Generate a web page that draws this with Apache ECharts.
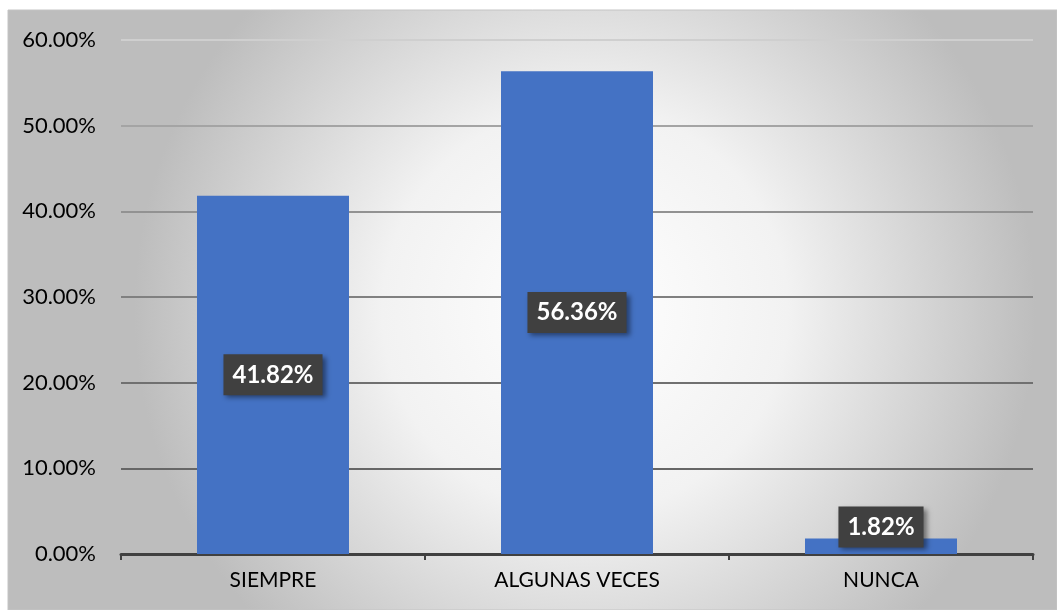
<!DOCTYPE html>
<html>
<head>
<meta charset="utf-8">
<script src="https://cdn.jsdelivr.net/npm/echarts@6/dist/echarts.min.js"></script>
<style>
  html, body { margin: 0; padding: 0; background: #fff; }
  #chart { width: 1057px; height: 610px; }
</style>
</head>
<body>
<div id="chart"></div>
<script>
"use strict";

var categories = ["SIEMPRE", "ALGUNAS VECES", "NUNCA"];
var values = [41.82, 56.36, 1.82];
var yTicks = [0, 10, 20, 30, 40, 50, 60];

var chart = echarts.init(document.getElementById("chart"));

var labelBox = {
  show: true,
  position: "inside",
  color: "#fff",
  fontFamily: "Lato",
  fontWeight: "bold",
  fontSize: 24,
  backgroundColor: "#404040",
  padding: [9, 9, 8, 9],
  shadowColor: "rgba(0,0,0,0.45)",
  shadowBlur: 5,
  shadowOffsetX: 3,
  shadowOffsetY: 3,
  formatter: function (p) {
    return p.value.toFixed(2) + "%";
  },
};

chart.setOption({
  animation: false,
  graphic: [
    {
      type: "rect",
      z: -10,
      shape: { x: 8, y: 10, width: 1049, height: 600 },
      style: {
        fill: new echarts.graphic.RadialGradient(0.55, 0.5, 0.75, [
          { offset: 0, color: "#ffffff" },
          { offset: 0.45, color: "#f2f2f2" },
          { offset: 1, color: "#bdbdbd" },
        ]),
        stroke: "#c4c4c4",
        lineWidth: 1,
      },
    },
  ],
  grid: {
    left: 121,
    right: 24,
    top: 40,
    bottom: 56,
  },
  xAxis: {
    type: "category",
    data: categories,
    axisLine: { lineStyle: { color: "#404040", width: 3 } },
    axisTick: { show: true, length: 6, lineStyle: { color: "#404040", width: 2 } },
    axisLabel: {
      color: "#000",
      fontFamily: "Lato",
      fontSize: 21,
      margin: 16,
    },
  },
  yAxis: {
    type: "value",
    min: yTicks[0],
    max: yTicks[yTicks.length - 1],
    interval: 10,
    axisLine: { show: false },
    axisTick: { show: false },
    axisLabel: {
      color: "#000",
      fontFamily: "Lato",
      fontSize: 22,
      margin: 25,
      formatter: function (v) {
        return v.toFixed(2) + "%";
      },
    },
    splitLine: {
      lineStyle: {
        width: 2,
        color: ["#404040", "#666666", "#707070", "#808080", "#929292", "#a4a4a4", "#cfcfcf"],
      },
    },
  },
  series: [
    {
      type: "bar",
      barWidth: "50%",
      itemStyle: { color: "#4472C4" },
      label: labelBox,
      data: values.map(function (v, i) {
        if (v < 5) {
          return {
            value: v,
            label: { position: "top", distance: 0, offset: [0, 9] },
          };
        }
        return v;
      }),
    },
  ],
});
</script>
</body>
</html>
